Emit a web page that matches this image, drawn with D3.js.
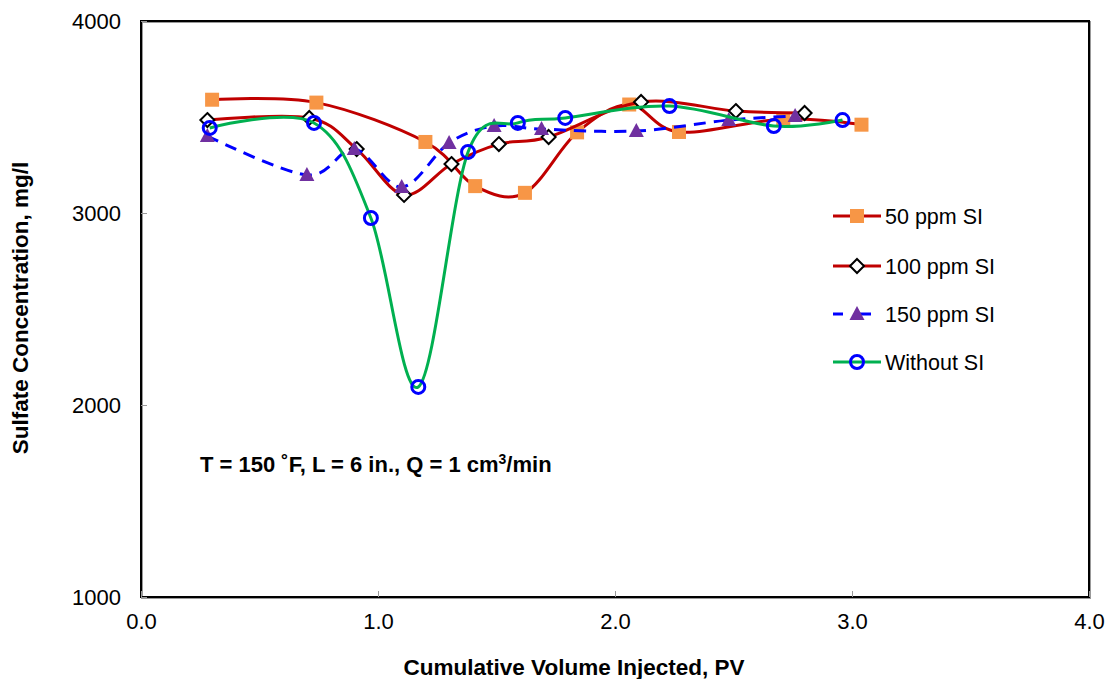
<!DOCTYPE html>
<html>
<head>
<meta charset="utf-8">
<script src="https://cdn.jsdelivr.net/npm/d3@7"></script>
<style>
  html, body { margin: 0; padding: 0; background: #fff; }
  svg { display: block; font-family: Arial, "Liberation Sans", sans-serif; }
</style>
</head>
<body>
<svg id="chart" width="1112" height="679"></svg>
<script>
// Sulfate concentration vs. cumulative pore volumes injected
const pv50 = [0.30, 0.74, 1.20, 1.41, 1.62, 1.84, 2.06, 2.27, 2.71, 3.04];
const so50 = [3590, 3575, 3370, 3140, 3105, 3420, 3565, 3422, 3490, 3460];

const pv100 = [0.28, 0.71, 0.91, 1.11, 1.31, 1.51, 1.72, 2.11, 2.51, 2.80];
const so100 = [3484, 3495, 3333, 3094, 3255, 3359, 3396, 3578, 3531, 3521];

const pv150 = [0.28, 0.70, 0.90, 1.10, 1.30, 1.49, 1.69, 2.09, 2.48, 2.76];
const so150 = [3401, 3198, 3333, 3135, 3365, 3453, 3437, 3427, 3484, 3505];

const pv0 = [0.29, 0.73, 0.97, 1.17, 1.38, 1.59, 1.79, 2.23, 2.67, 2.96];
const so0 = [3443, 3469, 2974, 2094, 3318, 3469, 3495, 3557, 3453, 3484];

const seriesNames = ["50 ppm SI", "100 ppm SI", "150 ppm SI", "Without SI"];
const xTicks = [0, 1, 2, 3, 4];
const yTicks = [1000, 2000, 3000, 4000];
const noteText = "T = 150 ˚F, L = 6 in., Q = 1 cm";

const svg = d3.select("#chart");
const plotL = 141, plotR = 1089, plotT = 21, plotB = 597;

const x = d3.scaleLinear().domain([0, 4]).range([plotL, plotR]);
const y = d3.scaleLinear().domain([1000, 4000]).range([plotB, plotT]);

const series = [
  { name: seriesNames[0], xs: pv50, ys: so50, line: "#C00000", dash: null, marker: "square" },
  { name: seriesNames[1], xs: pv100, ys: so100, line: "#C00000", dash: null, marker: "diamond" },
  { name: seriesNames[2], xs: pv150, ys: so150, line: "#0000FF", dash: "12,8", marker: "triangle" },
  { name: seriesNames[3], xs: pv0, ys: so0, line: "#00B050", dash: null, marker: "circle" }
];

// plot frame with a light shadow edge
svg.append("rect")
  .attr("x", plotL + 1).attr("y", plotT + 1)
  .attr("width", plotR - plotL).attr("height", plotB - plotT)
  .attr("fill", "none").attr("stroke", "#999").attr("stroke-width", 2);
svg.append("rect")
  .attr("x", plotL).attr("y", plotT)
  .attr("width", plotR - plotL).attr("height", plotB - plotT)
  .attr("fill", "none").attr("stroke", "#000").attr("stroke-width", 2);

// axes: inward ticks, labels outside
const yAxis = d3.axisLeft(y).tickValues(yTicks).tickSize(-6).tickPadding(20).tickFormat(d3.format("d"));
const gy = svg.append("g").attr("transform", `translate(${plotL},0)`).call(yAxis);
const xAxis = d3.axisBottom(x).tickValues(xTicks).tickSize(-6).tickPadding(16).tickFormat(d3.format(".1f"));
const gx = svg.append("g").attr("transform", `translate(0,${plotB})`).call(xAxis);
[gx, gy].forEach(g => {
  g.select(".domain").remove();
  g.selectAll(".tick line").attr("stroke", "#999").attr("stroke-width", 1);
  g.selectAll(".tick text").attr("fill", "#000").style("font-size", "22px");
});
gy.selectAll(".tick text").attr("dy", "0.35em");
gx.selectAll(".tick text").attr("dy", "0.72em");

// axis titles
svg.append("text")
  .attr("x", 574).attr("y", 675)
  .attr("text-anchor", "middle").style("font-size", "22.5px").style("font-weight", "bold")
  .text("Cumulative Volume Injected, PV");
svg.append("text")
  .attr("transform", `translate(28,308) rotate(-90)`)
  .attr("text-anchor", "middle").style("font-size", "22.5px").style("font-weight", "bold")
  .text("Sulfate Concentration, mg/l");

// test conditions note
const note = svg.append("text")
  .attr("x", 200).attr("y", 472)
  .style("font-size", "22px").style("font-weight", "bold");
note.append("tspan").text(noteText);
note.append("tspan").attr("dy", -8).style("font-size", "14px").text("3");
note.append("tspan").attr("dy", 8).text("/min");

// markers
function drawMarker(g, type, cx, cy) {
  if (type === "square") {
    g.append("rect").attr("x", cx - 7).attr("y", cy - 7).attr("width", 14).attr("height", 14)
      .attr("fill", "#F79646");
  } else if (type === "diamond") {
    g.append("path")
      .attr("d", `M${cx},${cy - 7}L${cx + 7},${cy}L${cx},${cy + 7}L${cx - 7},${cy}Z`)
      .attr("fill", "#fff").attr("stroke", "#000").attr("stroke-width", 2);
  } else if (type === "triangle") {
    g.append("path")
      .attr("d", `M${cx},${cy - 8}L${cx + 7.5},${cy + 6}L${cx - 7.5},${cy + 6}Z`)
      .attr("fill", "#7030A0");
  } else {
    g.append("circle").attr("cx", cx).attr("cy", cy).attr("r", 6.5)
      .attr("fill", "none").attr("stroke", "#0000FF").attr("stroke-width", 3);
  }
}

const lineGen = d3.line()
  .x(d => x(d[0])).y(d => y(d[1]))
  .curve(d3.curveCatmullRom.alpha(0));

series.forEach(s => {
  const pts = s.xs.map((v, i) => [v, s.ys[i]]);
  const g = svg.append("g");
  g.append("path").datum(pts)
    .attr("d", lineGen)
    .attr("fill", "none").attr("stroke", s.line).attr("stroke-width", 3)
    .attr("stroke-dasharray", s.dash);
  pts.forEach(p => drawMarker(g, s.marker, x(p[0]), y(p[1])));
});

// legend
const legendY = [216, 266, 314, 362];
series.forEach((s, i) => {
  const g = svg.append("g");
  const ly = legendY[i];
  g.append("line").attr("x1", 833).attr("x2", 881).attr("y1", ly).attr("y2", ly)
    .attr("stroke", s.line).attr("stroke-width", 3)
    .attr("stroke-dasharray", s.dash ? "10,12,6,0" : null);
  drawMarker(g, s.marker, 857, ly);
  g.append("text").attr("x", 885).attr("y", ly).attr("dy", "0.35em")
    .style("font-size", "21.5px").text(s.name);
});
</script>
</body>
</html>
